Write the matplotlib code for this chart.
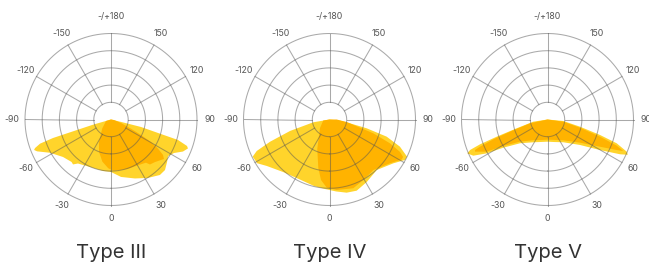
import numpy as np
import matplotlib
matplotlib.use("Agg")
import matplotlib.pyplot as plt

# ---- data: polar light-distribution outlines (angle in degrees, radius in ring units) ----
titles = ["Type III", "Type IV", "Type V"]

t3_light_theta = [-74, -73.9, -72.7, -72.3, -71.2, -69.4, -68.4, -66.7, -61.4, -52, -42.9, -40.2, -36.9,
                  -23.8, -8.8, 0, 9.9, 22.1, 32.3, 41.4, 46.9, 52.8, 57.4, 62.0, 66.0, 69.4, 70.8,
                  73.0, 73.8, 76.0, 76.5, 77]
t3_light_r = [0, 1.09, 2.31, 3.54, 4.36, 4.72, 4.81, 4.68, 4.04, 3.54, 3.37, 3.42, 3.20,
              3.02, 3.03, 3.05, 3.39, 3.70, 4.02, 4.30, 4.30, 4.09, 3.94, 4.15, 4.58, 4.78, 4.68,
              4.07, 3.03, 1.80, 0.6, 0]
t3_dark_theta = [-74, -73.3, -44.7, -28.4, -20.4, -11.6, -3.2, 2.2, 11.2, 18.9, 30.5, 39, 40.9, 46,
                 53.3, 55.7, 58.2, 60.6, 62.7, 65.3, 70.7, 80, 81]
t3_dark_r = [0, 0.30, 0.72, 1.47, 2.0, 2.5, 2.84, 2.97, 2.99, 3.04, 3.09, 3.23, 3.46, 3.56,
             3.84, 3.66, 3.22, 2.67, 1.96, 1.28, 0.62, 0.18, 0]

t4_light_theta = [-81, -80.2, -73.8, -69.5, -66.6, -64.2, -61.5, -58.9, -53.5, -41.3, -26.2, -13.1, -3.7,
                  5.2, 13.2, 20.9, 30.8, 43.1, 55.5, 61.8, 64.4, 68.9, 73.3, 76.7, 79.5, 83.5, 84]
t4_light_r = [0, 0.96, 2.39, 3.69, 4.61, 4.96, 4.93, 4.92, 4.54, 4.07, 3.89, 3.97, 4.05,
              4.20, 4.37, 4.43, 4.23, 4.02, 4.50, 4.98, 5.0, 4.39, 3.47, 2.22, 1.21, 0.61, 0]
t4_dark_theta = [-81, -80.8, -48.2, -22.5, -13.0, -8.0, -2.4, 5.8, 19.1, 29.2, 40.9, 54.1, 61.0, 63.0,
                 65.3, 68.5, 72.5, 81.7, 90, 91]
t4_dark_r = [0, 0.37, 0.74, 1.86, 2.89, 3.55, 3.96, 4.12, 4.23, 4.03, 3.89, 4.34, 4.80, 4.80,
             4.51, 3.78, 2.67, 1.01, 0.42, 0]

t5_light_theta = [-82, -81.2, -74.1, -71.3, -69.8, -68.5, -67.1, -64.0, -60.9, -57.5, -49.1, -31.9, -16,
                  0, 17, 34.7, 51.9, 59.8, 64.4, 66.3, 67.9, 71.0, 73.6, 77.5, 84.6, 85]
t5_light_r = [0, 0.84, 1.86, 3.12, 4.18, 4.84, 5.06, 4.80, 4.05, 3.05, 2.11, 1.56, 1.36,
              1.29, 1.37, 1.61, 2.40, 3.53, 4.68, 5.10, 4.97, 4.26, 3.18, 1.94, 0.92, 0]
t5_dark_theta = [-78, -77.7, -72, -69.9, -68.1, -67.2, -66.1, -62.1, -59.1, -51.1, -34.3, -16, 0, 17,
                 37.2, 54.5, 62.6, 66.2, 67.4, 69.3, 71.9, 75.8, 82.1, 83]
t5_dark_r = [0, 1.04, 2.29, 3.35, 4.23, 4.57, 4.61, 4.0, 3.0, 2.05, 1.46, 1.24, 1.17, 1.24,
             1.52, 2.32, 3.44, 4.40, 4.77, 4.30, 3.21, 1.95, 0.93, 0]

tick_angles = [0, 30, 60, 90, 120, 150, 180, -150, -120, -90, -60, -30]
tick_labels = ["0", "30", "60", "90", "120", "150", "-/+180", "-150", "-120", "-90", "-60", "-30"]
rings = [1, 2, 3, 4, 5]

panels = [
    (t3_light_theta, t3_light_r, t3_dark_theta, t3_dark_r),
    (t4_light_theta, t4_light_r, t4_dark_theta, t4_dark_r),
    (t5_light_theta, t5_light_r, t5_dark_theta, t5_dark_r),
]

LIGHT = "#FFD42B"
DARK = "#FFB300"
GRID = "#555555"
FONT = ["Inter", "DejaVu Sans"]

W, H = 649, 263
fig = plt.figure(figsize=(W / 100, H / 100), dpi=100)
centers_x = [111, 329.5, 547.5]
cy = 119.5
R = 86

for i, (lt, lr, dt, dr) in enumerate(panels):
    cx = centers_x[i]
    ax = fig.add_axes([(cx - R) / W, (H - cy - R) / H, 2 * R / W, 2 * R / H], projection="polar")
    ax.set_theta_zero_location("S")
    ax.set_theta_direction(1)
    ax.set_ylim(0, 5)
    ax.grid(False)
    ax.set_xticks([])
    ax.set_yticks([])
    ax.spines["polar"].set_visible(False)
    ax.patch.set_visible(False)

    ax.fill(np.deg2rad(lt), lr, color=LIGHT, lw=0, zorder=1, clip_on=False)
    ax.fill(np.deg2rad(dt), dr, color=DARK, lw=0, zorder=2, clip_on=False)

    th = np.linspace(0, 2 * np.pi, 400)
    for rr in rings:
        ax.plot(th, np.full_like(th, rr), color=GRID, alpha=0.5, lw=0.75, zorder=3, clip_on=False)
    for a in tick_angles:
        ax.plot([np.deg2rad(a)] * 2, [rings[0], rings[-1]], color=GRID, alpha=0.5, lw=0.75,
                zorder=3, clip_on=False)
    for a, lab in zip(tick_angles, tick_labels):
        rad = 6.0 if a == 180 else 5.75
        ax.text(np.deg2rad(a), rad, lab, ha="center", va="center", fontsize=6.3,
                color="#555555", family=FONT, clip_on=False)

    fig.text(cx / W, 1 - 258.3 / H, titles[i], ha="center", va="baseline", fontsize=14.5,
             color="#333333", family=FONT, fontweight="normal")

fig.savefig("out.png", dpi=100)
